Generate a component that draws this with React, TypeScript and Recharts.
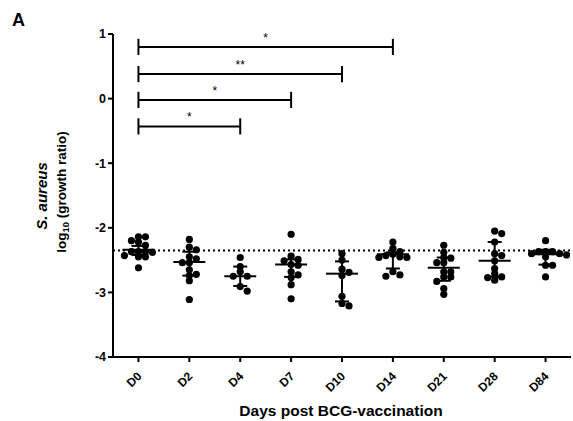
import { ComposedChart, ErrorBar, ReferenceLine, Scatter, XAxis, YAxis } from "recharts";

const GROUPS = ["D0", "D2", "D4", "D7", "D10", "D14", "D21", "D28", "D84"];

const d0 = [-2.14, -2.14, -2.2, -2.22, -2.27, -2.37, -2.37, -2.37, -2.38, -2.43, -2.45, -2.45, -2.62];
const d2 = [-2.18, -2.3, -2.34, -2.45, -2.48, -2.54, -2.54, -2.65, -2.72, -2.74, -2.82, -3.11];
const d4 = [-2.46, -2.6, -2.68, -2.75, -2.75, -2.91, -2.98];
const d7 = [-2.1, -2.44, -2.49, -2.51, -2.57, -2.58, -2.68, -2.73, -2.77, -2.88, -3.1];
const d10 = [-2.4, -2.5, -2.64, -2.69, -2.74, -3.06, -3.17, -3.21];
const d14 = [-2.22, -2.32, -2.37, -2.41, -2.43, -2.45, -2.46, -2.46, -2.68, -2.73, -2.75];
const d21 = [-2.27, -2.38, -2.46, -2.47, -2.54, -2.54, -2.68, -2.68, -2.76, -2.76, -2.83, -2.94, -3.03];
const d28 = [-2.05, -2.09, -2.22, -2.4, -2.43, -2.51, -2.63, -2.71, -2.76, -2.77, -2.81];
const d84 = [-2.2, -2.37, -2.37, -2.37, -2.4, -2.4, -2.42, -2.45, -2.58, -2.58, -2.76];
const GROUP_VALUES = [d0, d2, d4, d7, d10, d14, d21, d28, d84];

// median with interquartile range
const MEDIANS = [-2.34, -2.53, -2.75, -2.57, -2.71, -2.41, -2.62, -2.51, -2.41];
const Q_LOW = [-2.42, -2.74, -2.9, -2.76, -3.14, -2.63, -2.82, -2.76, -2.57];
const Q_HIGH = [-2.28, -2.37, -2.6, -2.49, -2.52, -2.38, -2.46, -2.22, -2.34];

const BASELINE = -2.35;

// significance brackets, all from D0
const BRACKET_TO = ["D4", "D7", "D10", "D14"];
const BRACKET_Y = [-0.43, -0.02, 0.38, 0.8];
const BRACKET_STARS = ["*", "*", "**", "*"];

const Y_TICKS = [1, 0, -1, -2, -3, -4];

const FONT = "'Liberation Sans', Arial, sans-serif";
const W = 573;
const H = 421;
const Y_AXIS_W = 113;
const X_AXIS_H = 64;
const MARGIN = { top: 34, right: 2, bottom: 0, left: 0 };
const PX_PER_X = (W - Y_AXIS_W - MARGIN.right) / 9;
const PX_PER_Y = (H - MARGIN.top - X_AXIS_H) / 5;
const STEP = 7;
const CAP = 0.125;

// simple beeswarm: spread points sideways so the dots do not overlap too much
function swarm(values: number[], gi: number) {
  const placed: { px: number; py: number }[] = [];
  const sorted = [...values].sort((a, b) => b - a);
  return sorted.map((v) => {
    const py = v * PX_PER_Y;
    let px = 0;
    for (let i = 0; i < 40; i++) {
      const off = i === 0 ? 0 : i % 2 ? Math.ceil(i / 2) : -Math.ceil(i / 2);
      px = off * STEP;
      if (placed.every((p) => Math.hypot(p.px - px, p.py - py) >= STEP * 0.72)) break;
    }
    placed.push({ px, py });
    return { x: gi + px / PX_PER_X, y: v };
  });
}

const points = GROUP_VALUES.flatMap((vals, i) => swarm(vals, i));
const summary = GROUPS.map((g, i) => ({
  x: i,
  y: MEDIANS[i],
  err: [MEDIANS[i] - Q_LOW[i], Q_HIGH[i] - MEDIANS[i]],
}));

const Dot = (p: any) => <circle cx={p.cx} cy={p.cy} r={3.6} fill="#000" />;
const MedianLine = (p: any) => (
  <line x1={p.cx - 16} x2={p.cx + 16} y1={p.cy} y2={p.cy} stroke="#000" strokeWidth={2} />
);

const XTick = ({ x, y, payload }: any) => {
  const tx = x + 4;
  const ty = y + 13;
  return (
    <text
      x={tx}
      y={ty}
      transform={`rotate(-45 ${tx} ${ty})`}
      textAnchor="end"
      fontFamily={FONT}
      fontWeight="bold"
      fontSize={12}
      fill="#000"
    >
      {GROUPS[payload.value]}
    </text>
  );
};

const YTitle = () => (
  <g fontFamily={FONT} fontWeight="bold" fill="#000">
    <text x={47} y={196} transform="rotate(-90 47 196)" textAnchor="middle" fontStyle="italic" fontSize={15}>
      S. aureus
    </text>
    <text x={66} y={192} transform="rotate(-90 66 192)" textAnchor="middle" fontSize={13.5}>
      log
      <tspan fontSize={9.5} dy={3}>10</tspan>
      <tspan dy={-3}> (growth ratio)</tspan>
    </text>
  </g>
);

const XTitle = () => (
  <text x={341} y={416} textAnchor="middle" fontFamily={FONT} fontWeight="bold" fontSize={15.5} fill="#000">
    Days post BCG-vaccination
  </text>
);

export default function App() {
  return (
    <div style={{ position: "absolute", left: 0, top: 0, width: W, height: H, background: "#fff" }}>
      <div
        style={{
          position: "absolute",
          left: 12,
          top: 10,
          fontFamily: FONT,
          fontWeight: "bold",
          fontSize: 18,
          lineHeight: "20px",
        }}
      >
        A
      </div>
      <ComposedChart width={W} height={H} margin={MARGIN}>
        <XAxis
          dataKey="x"
          type="number"
          domain={[-0.5, 8.5]}
          ticks={GROUPS.map((_, i) => i)}
          interval={0}
          height={X_AXIS_H}
          tick={<XTick />}
          tickSize={5}
          axisLine={{ stroke: "#000", strokeWidth: 2 }}
          tickLine={{ stroke: "#000", strokeWidth: 2 }}
          label={XTitle}
        />
        <YAxis
          dataKey="y"
          type="number"
          domain={[-4, 1]}
          ticks={Y_TICKS}
          interval={0}
          width={Y_AXIS_W}
          tickSize={5}
          tick={{ fontFamily: FONT, fontWeight: "bold", fontSize: 12.5, fill: "#000" }}
          axisLine={{ stroke: "#000", strokeWidth: 2 }}
          tickLine={{ stroke: "#000", strokeWidth: 2 }}
          label={YTitle}
        />
        <ReferenceLine y={BASELINE} stroke="#000" strokeWidth={2} strokeDasharray="2 3" />
        {BRACKET_TO.flatMap((g, i) => {
          const xi = GROUPS.indexOf(g);
          const yv = BRACKET_Y[i];
          return [
            <ReferenceLine
              key={`h${i}`}
              segment={[{ x: 0, y: yv }, { x: xi, y: yv }]}
              stroke="#000"
              strokeWidth={2}
              label={{ value: BRACKET_STARS[i], position: "top", fontSize: 12, fill: "#000", fontFamily: FONT }}
            />,
            <ReferenceLine
              key={`l${i}`}
              segment={[{ x: 0, y: yv - CAP }, { x: 0, y: yv + CAP }]}
              stroke="#000"
              strokeWidth={2}
            />,
            <ReferenceLine
              key={`r${i}`}
              segment={[{ x: xi, y: yv - CAP }, { x: xi, y: yv + CAP }]}
              stroke="#000"
              strokeWidth={2}
            />,
          ];
        })}
        <Scatter data={points} dataKey="y" shape={Dot} isAnimationActive={false} />
        <Scatter data={summary} dataKey="y" shape={MedianLine} isAnimationActive={false}>
          <ErrorBar dataKey="err" direction="y" width={7} stroke="#000" strokeWidth={2} />
        </Scatter>
      </ComposedChart>
    </div>
  );
}
